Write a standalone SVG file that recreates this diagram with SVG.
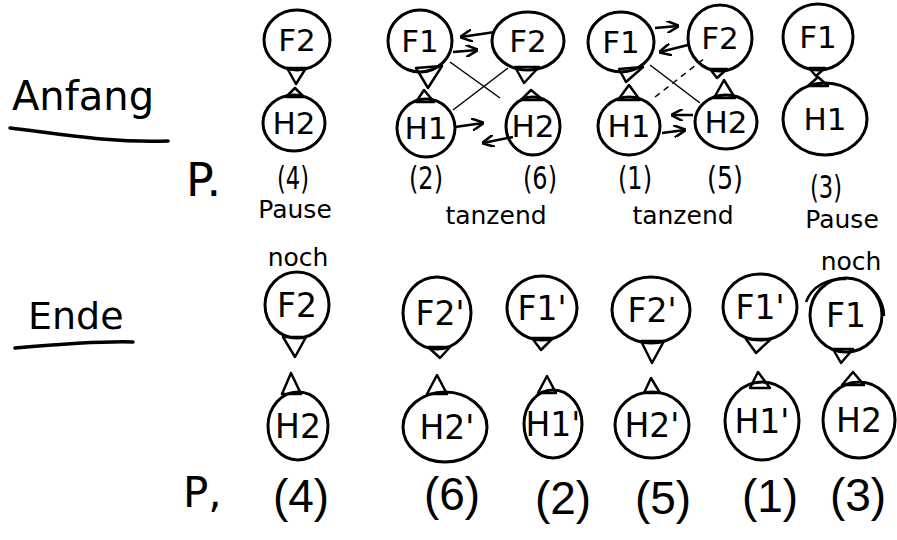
<svg xmlns="http://www.w3.org/2000/svg" width="897" height="540" viewBox="0 0 897 540">
<style>
.c{fill:none;stroke:#000;stroke-width:3}
.t{fill:none;stroke:#000;stroke-width:2.5;stroke-linejoin:round}
.l{font-family:"DejaVu Sans","Liberation Sans",sans-serif;font-size:31px;fill:#000;text-anchor:middle}
.b{font-family:"DejaVu Sans","Liberation Sans",sans-serif;font-size:33px;fill:#000;text-anchor:middle}
.s{font-family:"DejaVu Sans","Liberation Sans",sans-serif;font-size:32px;fill:#000;text-anchor:middle}
.p{font-family:"Liberation Sans","DejaVu Sans",sans-serif;font-size:46px;fill:#000;text-anchor:middle}
.w{font-family:"DejaVu Sans","Liberation Sans",sans-serif;font-size:25px;fill:#000;text-anchor:middle}
.h{font-family:"DejaVu Sans","Liberation Sans",sans-serif;fill:#000}
.a{fill:none;stroke:#000;stroke-width:2.5;marker-end:url(#ah)}
.x{fill:none;stroke:#000;stroke-width:1.5}
.d{fill:none;stroke:#000;stroke-width:1.5;stroke-dasharray:6 5}
.u{fill:none;stroke:#000;stroke-width:3.5;stroke-linecap:round}
</style>
<defs>
<marker id="ah" viewBox="0 0 10 10" refX="9" refY="5" markerWidth="5" markerHeight="5" orient="auto">
<path d="M0,0 L10,5 L0,10" fill="none" stroke="#000" stroke-width="2"/>
</marker>
</defs>
<rect width="897" height="540" fill="#fff"/>

<g id="headings">
<text class="h" x="12" y="110" font-size="40">Anfang</text>
<path class="u" d="M10,128 C60,134 110,143 168,141"/>
<text class="h" x="186" y="196" font-size="46">P.</text>
<text class="h" x="28" y="329" font-size="38">Ende</text>
<path class="u" d="M15,348 C50,345 100,341 133,342"/>
<text class="h" x="183" y="507" font-size="42">P,</text>
</g>

<!-- top row -->
<g id="a1-F2"><ellipse class="c" cx="297" cy="40" rx="33" ry="30"/><path class="t" d="M287,68 L306,68 L296,84 Z"/><text class="l" x="297" y="51">F2</text></g>
<g id="a1-H2"><ellipse class="c" cx="294" cy="123" rx="31" ry="28"/><path class="t" d="M286,97 L304,97 L295,88 Z"/><text class="l" x="294" y="134">H2</text></g>
<text class="s" x="293" y="189" font-size="30" textLength="32" lengthAdjust="spacingAndGlyphs">(4)</text>
<text class="w" x="295" y="218">Pause</text>

<g id="a2-F1"><ellipse class="c" cx="420" cy="41" rx="32" ry="31"/><path class="t" d="M416,68 L442,66 L428,88 Z"/><text class="l" x="420" y="52">F1</text></g>
<g id="a2-F2"><ellipse class="c" cx="528" cy="41" rx="36" ry="29"/><path class="t" d="M515,67 L539,67 L524,83 Z"/><text class="l" x="528" y="52">F2</text></g>
<g id="a2-H1"><ellipse class="c" cx="426" cy="128" rx="29" ry="29"/><path class="t" d="M416,102 L434,102 L424,90 Z"/><text class="l" x="426" y="139">H1</text></g>
<g id="a2-H2"><ellipse class="c" cx="533" cy="126" rx="27" ry="29"/><path class="t" d="M521,100 L543,100 L531,90 Z"/><text class="l" x="533" y="137">H2</text></g>
<text class="s" x="426" y="189" font-size="30" textLength="34" lengthAdjust="spacingAndGlyphs">(2)</text>
<text class="s" x="540" y="189" font-size="30" textLength="34" lengthAdjust="spacingAndGlyphs">(6)</text>
<text class="w" x="496" y="224">tanzend</text>

<g id="a3-F1"><ellipse class="c" cx="621" cy="42" rx="33" ry="30"/><path class="t" d="M619,69 L643,67 L626,82 Z"/><text class="l" x="621" y="53">F1</text></g>
<g id="a3-F2"><ellipse class="c" cx="720" cy="38" rx="32" ry="33"/><path class="t" d="M710,69 L727,69 L717,78 Z"/><text class="l" x="720" y="49">F2</text></g>
<g id="a3-H1"><ellipse class="c" cx="629" cy="126" rx="31" ry="29"/><path class="t" d="M618,100 L640,100 L629,85 Z"/><text class="l" x="629" y="137">H1</text></g>
<g id="a3-H2"><ellipse class="c" cx="726" cy="122" rx="31" ry="27"/><path class="t" d="M714,98 L735,98 L724,80 Z"/><text class="l" x="726" y="133">H2</text></g>
<text class="s" x="635" y="189" font-size="30" textLength="34" lengthAdjust="spacingAndGlyphs">(1)</text>
<text class="s" x="725" y="189" font-size="30" textLength="36" lengthAdjust="spacingAndGlyphs">(5)</text>
<text class="w" x="683" y="224">tanzend</text>

<g id="a4-F1"><ellipse class="c" cx="818" cy="37" rx="35" ry="33"/><path class="t" d="M809,68 L825,68 L816,76 Z"/><text class="l" x="818" y="48">F1</text></g>
<g id="a4-H1"><ellipse class="c" cx="825" cy="119" rx="42" ry="36"/><path class="t" d="M808,86 L828,86 L818,77 Z"/><text class="l" x="825" y="130">H1</text></g>
<text class="s" x="826" y="198" font-size="40" textLength="32" lengthAdjust="spacingAndGlyphs">(3)</text>
<text class="w" x="842" y="228">Pause</text>

<g id="connectors">
<path class="a" d="M495,32 L461,37"/>
<path class="a" d="M453,52 L477,50"/>
<path class="x" d="M450,62 L500,98"/>
<path class="x" d="M453,110 L508,68"/>
<path class="a" d="M455,127 L483,123"/>
<path class="a" d="M513,137 L483,143"/>
<path class="a" d="M655,28 L678,26"/>
<path class="a" d="M688,45 L660,52"/>
<path class="x" d="M650,65 L700,103"/>
<path class="d" d="M655,97 L705,58"/>
<path class="a" d="M693,115 L672,115"/>
<path class="a" d="M662,133 L685,130"/>
</g>

<!-- bottom row -->
<text class="w" x="298" y="266" font-size="22">noch</text>
<g id="b1-F2"><ellipse class="c" cx="297" cy="305" rx="32" ry="33"/><path class="t" d="M283,337 L306,337 L295,357 Z"/><text class="b" x="297" y="317">F2</text></g>
<g id="b1-H2"><ellipse class="c" cx="298" cy="426" rx="30" ry="34"/><path class="t" d="M282,394 L301,394 L291,373 Z"/><text class="b" x="298" y="438">H2</text></g>
<text class="p" x="301" y="512">(4)</text>

<g id="b2-F2p"><ellipse class="c" cx="437" cy="313" rx="34" ry="36"/><path class="t" d="M428,347 L450,347 L440,358 Z"/><text class="b" x="440" y="325">F2'</text></g>
<g id="b2-H2p"><ellipse class="c" cx="445" cy="427" rx="42" ry="35"/><path class="t" d="M427,394 L447,394 L437,375 Z"/><text class="b" x="447" y="439">H2'</text></g>
<text class="p" x="452" y="510">(6)</text>

<g id="b3-F1p"><ellipse class="c" cx="542" cy="308" rx="35" ry="32"/><path class="t" d="M532,338 L553,338 L541,350 Z"/><text class="b" x="542" y="320">F1'</text></g>
<g id="b3-H1p"><ellipse class="c" cx="553" cy="424" rx="29" ry="34"/><path class="t" d="M538,393 L556,393 L547,376 Z"/><text class="b" x="553" y="436">H1'</text></g>
<text class="p" x="563" y="514">(2)</text>

<g id="b4-F2p"><ellipse class="c" cx="651" cy="310" rx="39" ry="33"/><path class="t" d="M641,341 L664,341 L652,363 Z"/><text class="b" x="652" y="322">F2'</text></g>
<g id="b4-H2p"><ellipse class="c" cx="652" cy="425" rx="37" ry="33"/><path class="t" d="M644,393 L660,393 L651,378 Z"/><text class="b" x="652" y="437">H2'</text></g>
<text class="p" x="663" y="514">(5)</text>

<g id="b5-F1p"><ellipse class="c" cx="760" cy="307" rx="37" ry="33"/><path class="t" d="M746,339 L771,339 L756,353 Z"/><text class="b" x="760" y="319">F1'</text></g>
<g id="b5-H1p"><ellipse class="c" cx="762" cy="421" rx="37" ry="39"/><path class="t" d="M750,388 L770,388 L758,372 Z"/><text class="b" x="762" y="433">H1'</text></g>
<text class="p" x="770" y="512">(1)</text>

<text class="w" x="851" y="270" font-size="22">noch</text>
<g id="b6-F1"><ellipse class="c" cx="846" cy="315" rx="36" ry="37"/><path class="t" d="M833,349 L853,349 L841,363 Z"/><path class="t" d="M806,302 C812,286 828,278 846,279"/><path class="t" d="M864,283 C876,290 884,303 884,316"/><text class="b" x="846" y="327">F1</text></g>
<g id="b6-H2"><ellipse class="c" cx="859" cy="420" rx="36" ry="38"/><path class="t" d="M842,385 L864,385 L853,372 Z"/><text class="b" x="859" y="432">H2</text></g>
<text class="p" x="858" y="511">(3)</text>
</svg>
